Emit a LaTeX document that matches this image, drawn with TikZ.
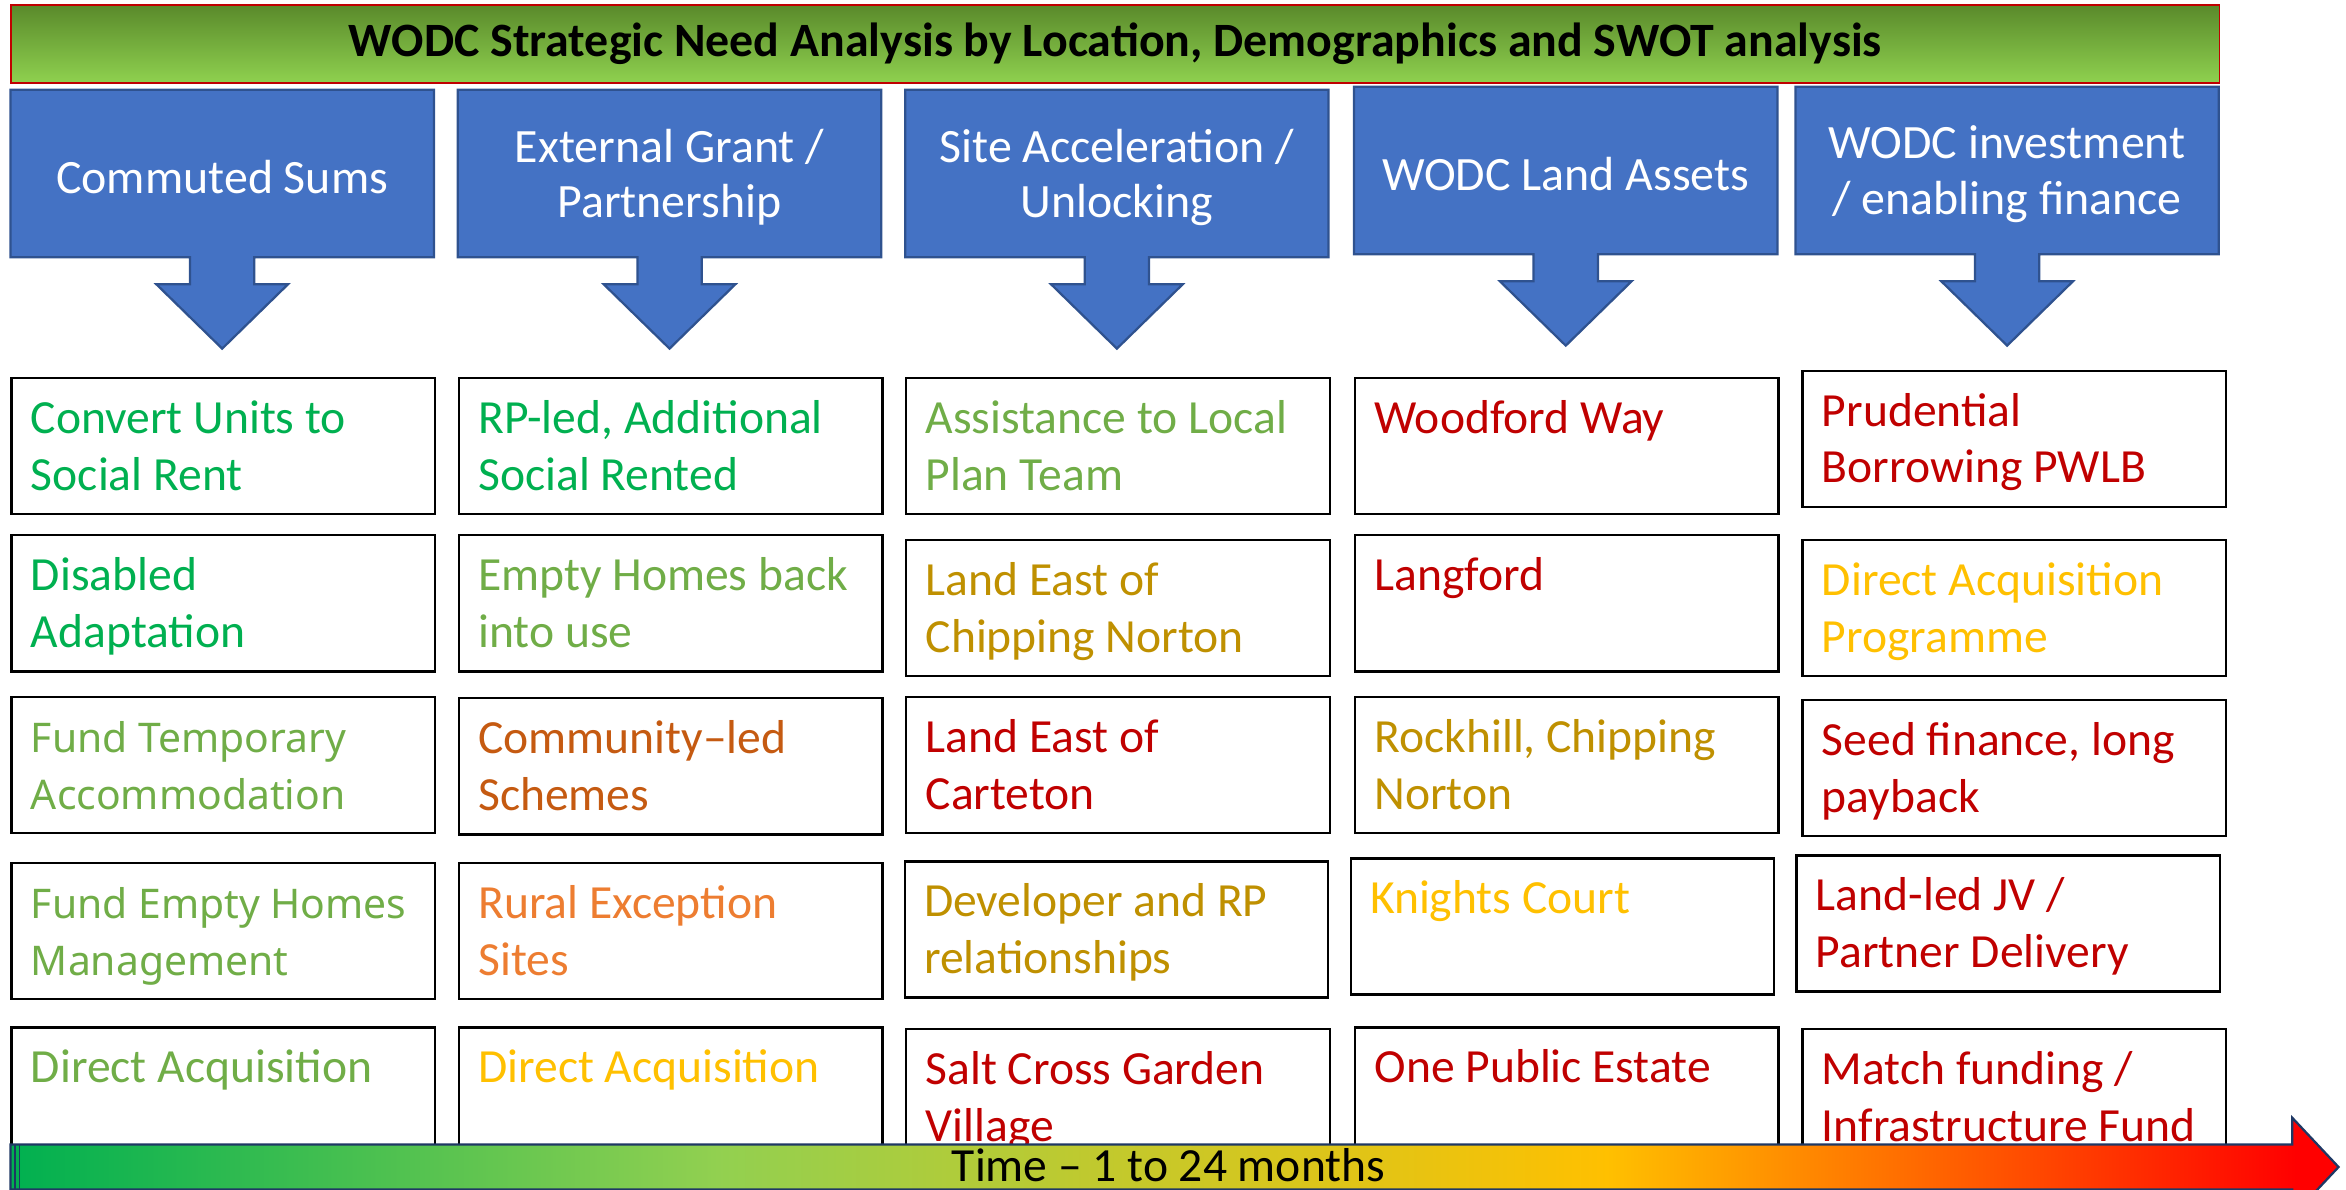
\documentclass[tikz,border=0pt]{standalone}
\usepackage{fontspec}
\setmainfont{Carlito}
\newfontfamily\altfam{Noto Sans}
\definecolor{cgreen}{HTML}{00B050}
\definecolor{lgreen}{HTML}{70AD47}
\definecolor{dorange}{HTML}{C55A11}
\definecolor{orangeb}{HTML}{ED7D31}
\definecolor{goldc}{HTML}{FFC000}
\definecolor{dgold}{HTML}{BF9000}
\definecolor{dred}{HTML}{C00000}
\definecolor{cblue}{HTML}{4472C4}
\definecolor{cnavy}{HTML}{2F528F}
\definecolor{anavy}{HTML}{1F3864}
\definecolor{hdtop}{HTML}{5A8A2B}
\definecolor{hdbot}{HTML}{8FD14F}
\definecolor{tg1}{HTML}{00B050}
\definecolor{tg2}{HTML}{92D050}
\definecolor{tg3}{HTML}{FFC000}
\definecolor{tg4}{HTML}{FF0000}
\newcommand\itemfont{\fontsize{31.8}{38}\selectfont}
\newcommand\altitemfont{\altfam\fontsize{27.3}{38}\selectfont}
\newcommand\bluefont{\fontsize{32}{37}\selectfont}
\tikzset{
  calloutshape/.style={fill=cblue, draw=cnavy, line width=1.5pt, line join=miter},
  headtext/.style={align=center, text=white, font=\bluefont, inner sep=0pt},
  itembox/.style={draw=black, line width=1.5pt, fill=white, inner sep=0pt,
    minimum width=283pt, minimum height=91pt, anchor=north west},
  itemtext/.style={anchor=north west, inner sep=0pt, align=left},
}
\newcommand\cell[6]{%
  \node[itembox] (#1) at (#2,#3) {};
  \node[itemtext, text=#4, font=#5] (#1t) at ([xshift=13.5pt, yshift=-11pt]#1.north west) {\strut #6};
}
\newcommand\callout[4]{%
  \draw[calloutshape] (#2,#3) -- ++(283,0) -- ++(0,112) -- ++(-120,0) -- ++(0,18)
    -- ++(22.5,0) -- ++(-44,43) -- ++(-44,-43) -- ++(22.5,0) -- ++(0,-18) -- ++(-120,0) -- cycle;
  \node[headtext] (#1) at (#2+141.5,#3+58.5) {#4};
}
\begin{document}
\begin{tikzpicture}[x=1pt,y=-1pt]
\useasboundingbox (0,0) rectangle (1568,795);
\clip (0,0) rectangle (1568,795);
% title bar
\node[draw=dred, line width=1pt, top color=hdtop, bottom color=hdbot,
  minimum width=1476pt, minimum height=52pt, anchor=north west, inner sep=0pt,
  font=\bfseries\fontsize{32}{38}\selectfont] (title) at (7,3)
  {WODC Strategic Need Analysis by Location, Demographics and SWOT analysis};
% callouts
\callout{h1}{7}{60}{Commuted Sums}
\callout{h2}{306}{60}{External Grant /\\Partnership}
\callout{h3}{605}{60}{Site Acceleration /\\Unlocking}
\callout{h4}{905}{58}{WODC Land Assets}
\callout{h5}{1200}{58}{WODC investment\\/ enabling finance}
% column 1
\cell{a1}{7}{252}{cgreen}{\itemfont}{Convert Units to\\Social Rent}
\cell{a2}{7}{357}{cgreen}{\itemfont}{Disabled\\Adaptation}
\cell{a3}{7}{465}{lgreen}{\altitemfont}{Fund Temporary\\Accommodation}
\cell{a4}{7}{576}{lgreen}{\altitemfont}{Fund Empty Homes\\Management}
\cell{a5}{7}{686}{lgreen}{\itemfont}{Direct Acquisition}
% column 2
\cell{b1}{306}{252}{cgreen}{\itemfont}{RP-led, Additional\\Social Rented}
\cell{b2}{306}{357}{lgreen}{\itemfont}{Empty Homes back\\into use}
\cell{b3}{306}{466}{dorange}{\itemfont}{Community–led\\Schemes}
\cell{b4}{306}{576}{orangeb}{\itemfont}{Rural Exception\\Sites}
\cell{b5}{306}{686}{goldc}{\itemfont}{Direct Acquisition}
% column 3
\cell{c1}{605}{252}{lgreen}{\itemfont}{Assistance to Local\\Plan Team}
\cell{c2}{605}{360}{dgold}{\itemfont}{Land East of\\Chipping Norton}
\cell{c3}{605}{465}{dred}{\itemfont}{Land East of\\Carteton}
\cell{c4}{604}{575}{dgold}{\itemfont}{Developer and RP\\relationships}
\cell{c5}{605}{687}{dred}{\itemfont}{Salt Cross Garden\\Village}
% column 4
\cell{d1}{905}{252}{dred}{\itemfont}{Woodford Way}
\cell{d2}{905}{357}{dred}{\itemfont}{Langford}
\cell{d3}{905}{465}{dgold}{\itemfont}{Rockhill, Chipping\\Norton}
\cell{d4}{902}{573}{goldc}{\itemfont}{Knights Court}
\cell{d5}{905}{686}{dred}{\itemfont}{One Public Estate}
% column 5
\cell{e1}{1204}{247}{dred}{\itemfont}{Prudential\\Borrowing PWLB}
\cell{e2}{1204}{360}{goldc}{\itemfont}{Direct Acquisition\\Programme}
\cell{e3}{1204}{467}{dred}{\itemfont}{Seed finance, long\\payback}
\cell{e4}{1200}{571}{dred}{\itemfont}{Land-led JV /\\Partner Delivery}
\cell{e5}{1204}{687}{dred}{\itemfont}{Match funding /\\Infrastructure Fund}
% time arrow
\begin{scope}
  \clip (7,765) -- (1532,765) -- (1532,747) -- (1563,780) -- (1532,813) -- (1532,795) -- (7,795) -- cycle;
  \shade[left color=tg1, right color=tg2] (6,740) rectangle (480,815);
  \shade[left color=tg2, right color=tg3] (479,740) rectangle (1075,815);
  \shade[left color=tg3, right color=tg4] (1074,740) rectangle (1535,815);
  \fill[tg4] (1534,740) rectangle (1570,815);
\end{scope}
\draw[anavy, line width=1.5pt, line join=miter]
  (7,765) -- (1532,765) -- (1532,747) -- (1563,780) -- (1532,813) -- (1532,795) -- (7,795) -- cycle;
\draw[anavy, line width=1pt] (10,765) -- (10,795) (13,765) -- (13,795);
\node[inner sep=0pt, font=\itemfont] (time) at (781,779) {Time – 1 to 24 months};
\end{tikzpicture}
\end{document}
